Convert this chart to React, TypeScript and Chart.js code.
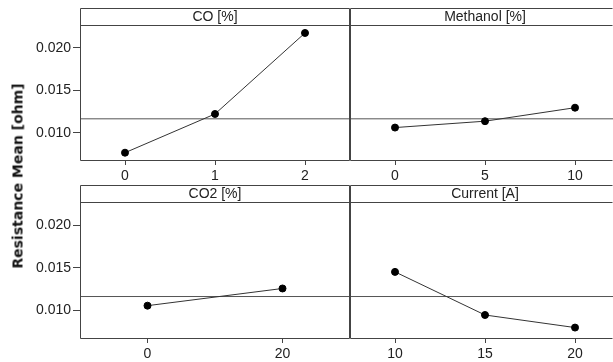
import React, { useEffect, useRef } from "react";
import { Chart, registerables } from "chart.js";

Chart.register(...registerables);

const CO_LEVELS = [0, 1, 2];
const CO_MEANS = [0.00766, 0.01222, 0.02176];
const METHANOL_LEVELS = [0, 5, 10];
const METHANOL_MEANS = [0.01062, 0.01137, 0.01296];
const CO2_LEVELS = [0, 20];
const CO2_MEANS = [0.01058, 0.01259];
const CURRENT_LEVELS = [10, 15, 20];
const CURRENT_MEANS = [0.01453, 0.00949, 0.00802];
const GRAND_MEAN = 0.01165;
const Y_TICKS = [0.01, 0.015, 0.02];
const Y_MIN = 0.0068;
const Y_MAX = 0.0227;

const FONT = "'Liberation Sans', Arial, sans-serif";
const TEXT = "#222";
const LINE = "#444";

type PanelProps = {
  title: string;
  levels: number[];
  means: number[];
  xMin: number;
  xMax: number;
  left: number;
  top: number;
  width: number;
  height: number;
  headerTop: number;
  plotTop: number;
  plotBottom: number;
  showY: boolean;
};

function Panel(p: PanelProps) {
  const ref = useRef<HTMLCanvasElement | null>(null);
  useEffect(() => {
    if (!ref.current) return;
    const boxPlugin = {
      id: "box",
      afterDraw(chart: any) {
        const { ctx, chartArea } = chart;
        ctx.save();
        ctx.strokeStyle = LINE;
        ctx.lineWidth = 1;
        const l = Math.round(chartArea.left) + 0.5;
        const r = Math.round(chartArea.right) - 0.5;
        const t = p.headerTop + 0.5;
        const b = Math.round(chartArea.bottom) + 0.5;
        ctx.beginPath();
        ctx.moveTo(r, t);
        ctx.lineTo(l, t);
        ctx.lineTo(l, b);
        ctx.lineTo(r, b);
        if (p.showY) ctx.lineTo(r, t);
        ctx.moveTo(l, Math.round(chartArea.top) + 0.5);
        ctx.lineTo(r, Math.round(chartArea.top) + 0.5);
        ctx.stroke();
        ctx.fillStyle = TEXT;
        ctx.font = `14px ${FONT}`;
        ctx.textAlign = "center";
        ctx.textBaseline = "middle";
        const cx = p.showY ? (chartArea.left + chartArea.right) / 2 : chartArea.left + 135;
        ctx.fillText(p.title, cx, (p.headerTop + chartArea.top) / 2 + 1);
        ctx.restore();
      },
    };
    const chart = new Chart(ref.current, {
      type: "scatter",
      data: {
        datasets: [
          {
            data: p.levels.map((x, i) => ({ x, y: p.means[i] })),
            showLine: true,
            borderColor: "#333",
            borderWidth: 1,
            pointRadius: 3.5,
            pointBackgroundColor: "#000",
            pointBorderColor: "#000",
            order: 1,
          },
          {
            data: [
              { x: p.xMin, y: GRAND_MEAN },
              { x: p.xMax, y: GRAND_MEAN },
            ],
            showLine: true,
            borderColor: "#555",
            borderWidth: 1,
            pointRadius: 0,
            order: 2,
          },
        ],
      },
      options: {
        responsive: false,
        animation: false,
        layout: {
          autoPadding: false,
          padding: { top: p.plotTop, left: p.showY ? 0 : 1, right: p.showY ? 2 : 0, bottom: 0 },
        },
        plugins: { legend: { display: false }, tooltip: { enabled: false } },
        scales: {
          x: {
            type: "linear",
            min: p.xMin,
            max: p.xMax,
            afterBuildTicks: (s: any) => {
              s.ticks = p.levels.map((v) => ({ value: v }));
            },
            afterFit: (s: any) => {
              s.height = p.height - p.plotBottom;
              s.paddingLeft = 0;
              s.paddingRight = 0;
            },
            grid: { drawOnChartArea: false, tickLength: 5, color: LINE },
            border: { display: false },
            ticks: {
              font: { family: FONT, size: 14 },
              color: TEXT,
              padding: 3,
              maxRotation: 0,
              autoSkip: false,
              callback: (v: any) => String(v),
            },
          },
          y: {
            type: "linear",
            min: Y_MIN,
            max: Y_MAX,
            display: p.showY,
            afterBuildTicks: (s: any) => {
              s.ticks = Y_TICKS.map((v) => ({ value: v }));
            },
            afterFit: (s: any) => {
              s.width = p.showY ? 80 : 0;
              s.paddingTop = 0;
              s.paddingBottom = 0;
            },
            grid: { drawOnChartArea: false, tickLength: 7, color: LINE },
            border: { display: false },
            ticks: {
              font: { family: FONT, size: 14 },
              color: TEXT,
              padding: 2,
              callback: (v: any) => Number(v).toFixed(3),
            },
          },
        },
      } as any,
      plugins: [boxPlugin],
    });
    return () => chart.destroy();
  }, []);
  return (
    <canvas
      ref={ref}
      width={p.width}
      height={p.height}
      style={{ position: "absolute", left: p.left, top: p.top, width: p.width, height: p.height }}
    />
  );
}

export default function App() {
  return (
    <div style={{ position: "absolute", left: 0, top: 0, width: 613, height: 362, background: "#fff", overflow: "hidden" }}>
      <Panel title="CO [%]" levels={CO_LEVELS} means={CO_MEANS} xMin={-0.5} xMax={2.5}
        left={0} top={0} width={352} height={185} headerTop={8} plotTop={25} plotBottom={160} showY={true} />
      <Panel title="Methanol [%]" levels={METHANOL_LEVELS} means={METHANOL_MEANS} xMin={-2.5} xMax={12.11}
        left={349} top={0} width={264} height={185} headerTop={8} plotTop={25} plotBottom={160} showY={false} />
      <Panel title="CO2 [%]" levels={CO2_LEVELS} means={CO2_MEANS} xMin={-10} xMax={30}
        left={0} top={180} width={352} height={182} headerTop={5} plotTop={22} plotBottom={158} showY={true} />
      <Panel title="Current [A]" levels={CURRENT_LEVELS} means={CURRENT_MEANS} xMin={7.5} xMax={22.11}
        left={349} top={180} width={264} height={182} headerTop={5} plotTop={22} plotBottom={158} showY={false} />
      <div
        style={{
          position: "absolute",
          left: 18,
          top: 176,
          transform: "translate(-50%, -50%) rotate(-90deg)",
          whiteSpace: "nowrap",
          fontFamily: "'DejaVu Sans', sans-serif",
          fontWeight: 700,
          fontSize: 14,
          lineHeight: "17px",
          color: "#111",
        }}
      >
        Resistance Mean [ohm]
      </div>
    </div>
  );
}
